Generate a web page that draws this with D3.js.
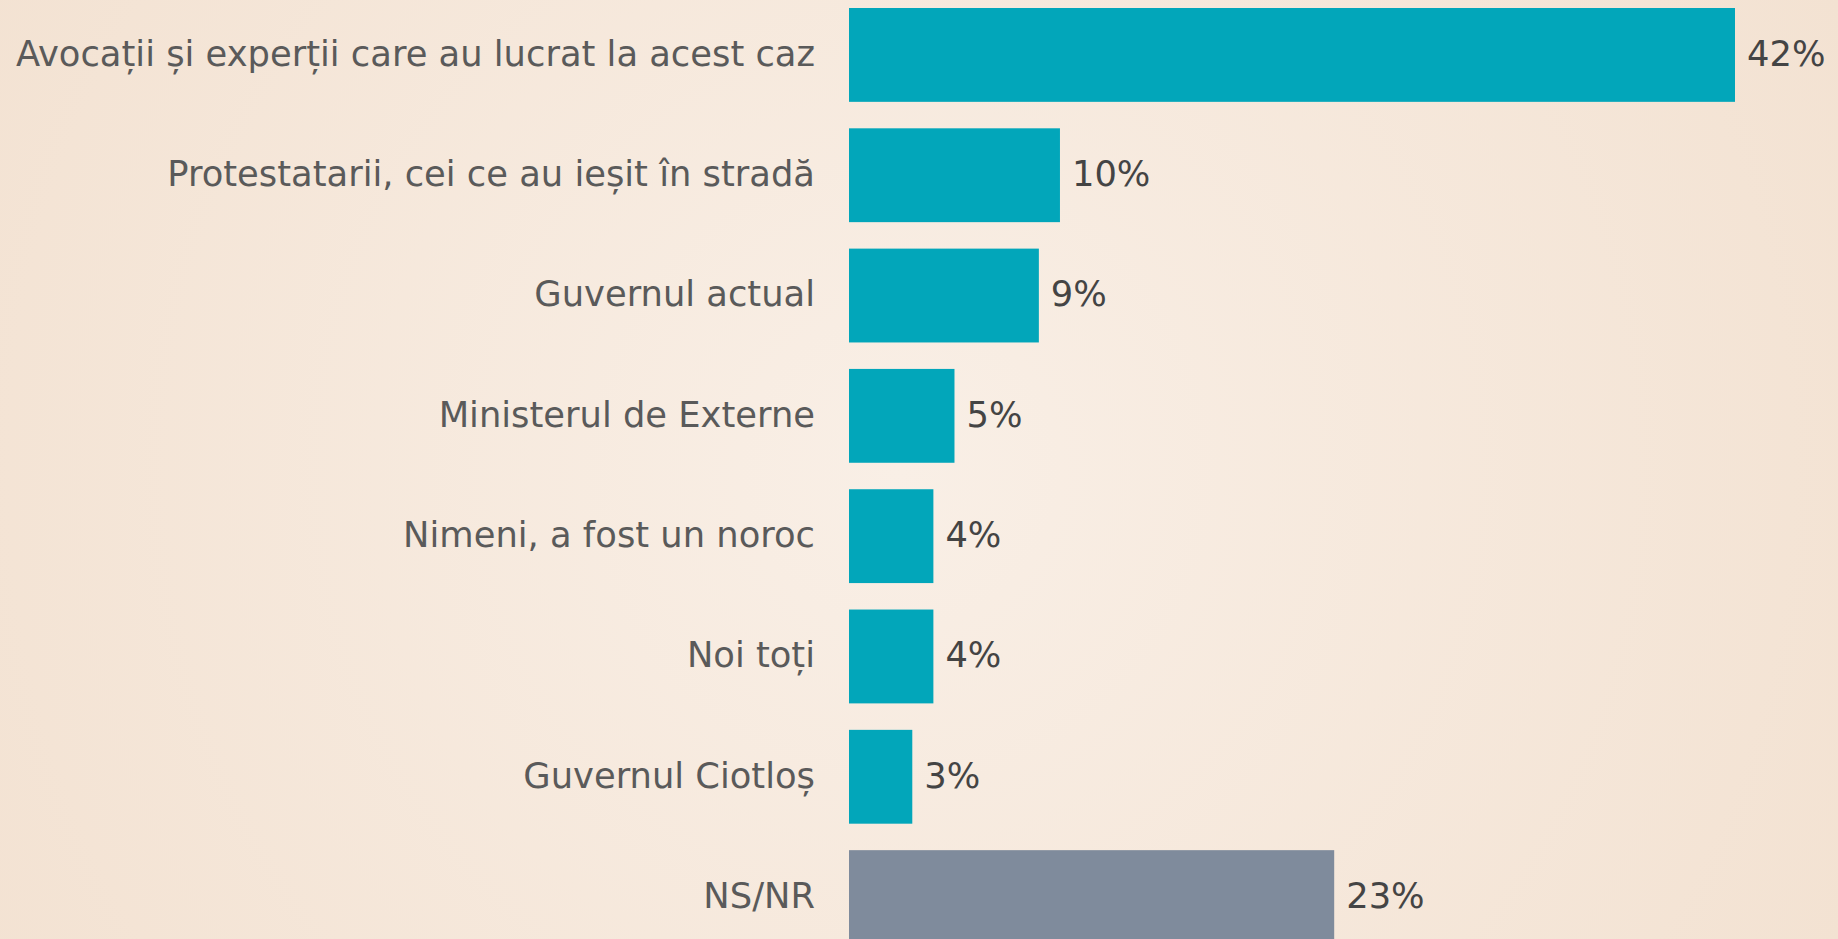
<!DOCTYPE html>
<html>
<head>
<meta charset="utf-8">
<script src="https://cdn.jsdelivr.net/npm/d3@7"></script>
<style>
  html, body { margin: 0; padding: 0; overflow: hidden; }
  body { width: 1838px; height: 939px; }
  svg { display: block; }
</style>
</head>
<body>
<svg id="chart" width="1838" height="939"></svg>
<script>
const categories = [
  "Avocații și experții care au lucrat la acest caz",
  "Protestatarii, cei ce au ieșit în stradă",
  "Guvernul actual",
  "Ministerul de Externe",
  "Nimeni, a fost un noroc",
  "Noi toți",
  "Guvernul Ciotloș",
  "NS/NR"
];
const values = [42, 10, 9, 5, 4, 4, 3, 23];
const valueLabels = ["42%", "10%", "9%", "5%", "4%", "4%", "3%", "23%"];
const barColors = ["#02a6ba", "#02a6ba", "#02a6ba", "#02a6ba", "#02a6ba", "#02a6ba", "#02a6ba", "#7f8b9c"];

const W = 1838, H = 939;
const svg = d3.select("#chart");

const defs = svg.append("defs");
const grad = defs.append("radialGradient")
  .attr("id", "bg").attr("gradientUnits", "userSpaceOnUse")
  .attr("cx", 900).attr("cy", 470).attr("r", 1050);
grad.append("stop").attr("offset", "0%").attr("stop-color", "#f9efe6");
grad.append("stop").attr("offset", "100%").attr("stop-color", "#f3e2d2");
svg.append("rect").attr("width", W).attr("height", H).attr("fill", "url(#bg)");

const x = d3.scaleLinear().domain([0, 42]).range([849, 1735]);
const y = d3.scaleBand().domain(categories).range([8, 944]).paddingInner(0.22).paddingOuter(0);

const font = "'DejaVu Sans', sans-serif";

svg.append("g").selectAll("rect").data(categories).join("rect")
  .attr("x", x(0))
  .attr("y", d => y(d))
  .attr("width", (d, i) => x(values[i]) - x(0))
  .attr("height", y.bandwidth())
  .attr("fill", (d, i) => barColors[i]);

svg.append("g").selectAll("text").data(categories).join("text")
  .attr("x", 815)
  .attr("y", d => y(d) + y.bandwidth() / 2)
  .attr("dy", "0.31em")
  .attr("text-anchor", "end")
  .attr("font-family", font)
  .attr("font-size", 35.3)
  .attr("fill", "#5a5a5a")
  .text(d => d);

svg.append("g").selectAll("text").data(categories).join("text")
  .attr("x", (d, i) => x(values[i]) + 12)
  .attr("y", d => y(d) + y.bandwidth() / 2)
  .attr("dy", "0.31em")
  .attr("font-family", font)
  .attr("font-size", 35.3)
  .attr("fill", "#444444")
  .text((d, i) => valueLabels[i]);
</script>
</body>
</html>
